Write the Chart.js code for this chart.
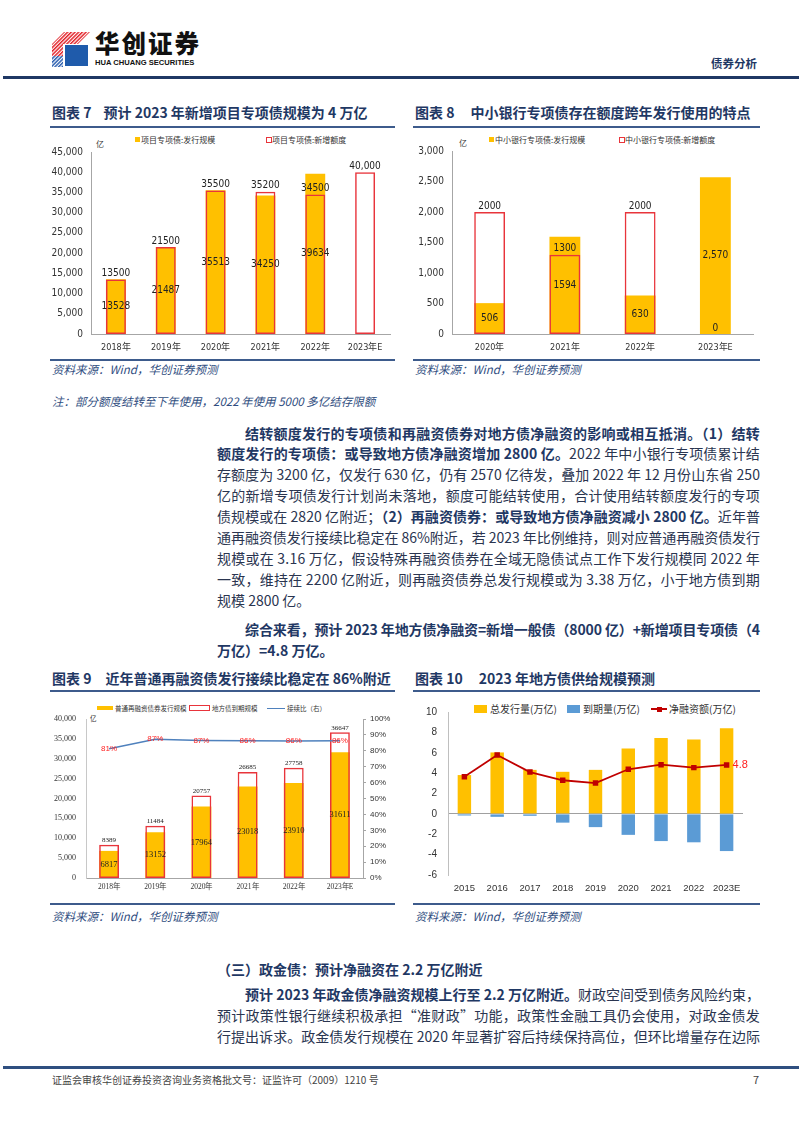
<!DOCTYPE html>
<html lang="zh-CN">
<head>
<meta charset="utf-8">
<title>债券分析</title>
<script src="https://cdn.jsdelivr.net/npm/chart.js@4.4.1/dist/chart.umd.min.js"></script>
<style>
  body { margin: 0; background: #fff; }
  #page { position: relative; width: 802px; height: 1133px; overflow: hidden; font-family: "Noto Sans CJK SC", sans-serif; color: #1f3864; }
  .abs { position: absolute; white-space: nowrap; }
  .rule { position: absolute; background: #3d5b8c; }
  .title { position: absolute; white-space: nowrap; font-size: 14px; font-weight: 700; line-height: 20px; color: #1f3864; }
  .title i { display: inline-block; font-style: normal; }
  .src { position: absolute; white-space: nowrap; font-size: 11.5px; font-style: italic; line-height: 16px; color: #2f4d80; }
  .ln { position: absolute; white-space: nowrap; font-size: 14px; line-height: 21px; color: #2a3550; }
  .ln b { color: #1f3864; font-weight: 700; }
  canvas { position: absolute; }
  .lg { position: absolute; white-space: nowrap; color: #333; }
  .sw { position: absolute; }
</style>
</head>
<body>
<div id="page">

  <!-- header -->
  <svg class="abs" style="left:52px;top:32px" width="38" height="35" viewBox="0 0 38 35">
    <defs>
      <pattern id="pr" width="2.6" height="2.6" patternUnits="userSpaceOnUse" patternTransform="rotate(-45)">
        <rect width="2.6" height="1.5" fill="#e3262d"/>
      </pattern>
      <pattern id="pb" width="2.6" height="2.6" patternUnits="userSpaceOnUse" patternTransform="rotate(-45)">
        <rect width="2.6" height="1.5" fill="#2b5fb0"/>
      </pattern>
    </defs>
    <polygon points="0,12 12,0 38,0 26,12" fill="url(#pr)"/>
    <polygon points="0,12 11,12 11,24 0,24" fill="url(#pr)"/>
    <polygon points="0,24 11,24 11,35 0,35" fill="url(#pb)"/>
    <rect x="13" y="13" width="23" height="21" fill="#1f5bab"/>
  </svg>
  <div class="abs" style="left:95px;top:28px;font-size:24.5px;font-weight:900;letter-spacing:2px;line-height:30px;color:#111">华创证券</div>
  <div class="abs" style="left:95px;top:58px;font-family:'Liberation Sans',sans-serif;font-size:7.6px;font-weight:700;line-height:9px;color:#111">HUA CHUANG SECURITIES</div>
  <div class="abs" style="left:711px;top:55px;font-size:11.5px;font-weight:700;line-height:16px;color:#1f3864">债券分析</div>
  <div class="rule" style="left:3px;top:76px;width:796px;height:3px;background:#1f3864"></div>

  <!-- figure 7 / 8 titles -->
  <div class="title" style="left:52px;top:102px">图表 7<i style="width:12px"></i>预计 2023 年新增项目专项债规模为 4 万亿</div>
  <div class="title" style="left:415px;top:102px">图表 8<i style="width:16px"></i>中小银行专项债存在额度跨年发行使用的特点</div>
  <div class="rule" style="left:50px;top:126px;width:345px;height:1.5px"></div>
  <div class="rule" style="left:413px;top:126px;width:347px;height:1.5px"></div>

  <!-- legend 7 -->
  <div class="sw" style="left:135px;top:137px;width:5px;height:5px;background:#FFC000"></div>
  <div class="lg" style="left:141px;top:134px;font-size:8px;line-height:12px">项目专项债:发行规模</div>
  <div class="sw" style="left:266px;top:137px;width:4px;height:4px;border:1px solid #E8343B"></div>
  <div class="lg" style="left:272px;top:134px;font-size:8px;line-height:12px">项目专项债:新增额度</div>
  <div class="lg" style="left:96px;top:139px;font-size:8px;line-height:10px">亿</div>
  <canvas id="fig7" width="360" height="228" style="left:40px;top:130px"></canvas>

  <!-- legend 8 -->
  <div class="sw" style="left:489px;top:137px;width:5px;height:5px;background:#FFC000"></div>
  <div class="lg" style="left:495px;top:134px;font-size:8px;line-height:12px">中小银行专项债:发行规模</div>
  <div class="sw" style="left:619px;top:137px;width:4px;height:4px;border:1px solid #E8343B"></div>
  <div class="lg" style="left:625px;top:134px;font-size:8px;line-height:12px">中小银行专项债:新增额度</div>
  <div class="lg" style="left:459px;top:138px;font-size:8px;line-height:10px">亿</div>
  <canvas id="fig8" width="370" height="228" style="left:410px;top:130px"></canvas>

  <div class="rule" style="left:50px;top:359px;width:345px;height:1.5px"></div>
  <div class="rule" style="left:413px;top:359px;width:347px;height:1.5px"></div>
  <div class="src" style="left:52px;top:361px">资料来源：Wind，华创证券预测</div>
  <div class="src" style="left:415px;top:361px">资料来源：Wind，华创证券预测</div>
  <div class="src" style="left:52px;top:393px">注：部分额度结转至下年使用，2022 年使用 5000 多亿结存限额</div>

  <!-- paragraph 1 -->
  <div class="ln j" data-w="515" style="left:245px;top:422.5px"><b>结转额度发行的专项债和再融资债券对地方债净融资的影响或相互抵消。（1）结转</b></div>
  <div class="ln j" data-w="543" style="left:217px;top:443.4px"><b>额度发行的专项债：或导致地方债净融资增加 2800 亿。</b>2022 年中小银行专项债累计结</div>
  <div class="ln j" data-w="543" style="left:217px;top:464.3px">存额度为 3200 亿，仅发行 630 亿，仍有 2570 亿待发，叠加 2022 年 12 月份山东省 250</div>
  <div class="ln j" data-w="543" style="left:217px;top:485.2px">亿的新增专项债发行计划尚未落地，额度可能结转使用，合计使用结转额度发行的专项</div>
  <div class="ln j" data-w="543" style="left:217px;top:506.1px">债规模或在 2820 亿附近；<b>（2）再融资债券：或导致地方债净融资减小 2800 亿。</b>近年普</div>
  <div class="ln j" data-w="543" style="left:217px;top:527px">通再融资债发行接续比稳定在 86%附近，若 2023 年比例维持，则对应普通再融资债发行</div>
  <div class="ln j" data-w="543" style="left:217px;top:547.9px">规模或在 3.16 万亿，假设特殊再融资债券在全域无隐债试点工作下发行规模同 2022 年</div>
  <div class="ln j" data-w="543" style="left:217px;top:568.8px">一致，维持在 2200 亿附近，则再融资债券总发行规模或为 3.38 万亿，小于地方债到期</div>
  <div class="ln" style="left:217px;top:589.7px">规模 2800 亿。</div>

  <!-- paragraph 2 -->
  <div class="ln j" data-w="515" style="left:245px;top:618.5px"><b>综合来看，预计 2023 年地方债净融资=新增一般债（8000 亿）+新增项目专项债（4</b></div>
  <div class="ln" style="left:217px;top:639.5px"><b>万亿）=4.8 万亿。</b></div>

  <!-- figure 9 / 10 titles -->
  <div class="title" style="left:52px;top:668px">图表 9<i style="width:14px"></i>近年普通再融资债发行接续比稳定在 86%附近</div>
  <div class="title" style="left:415px;top:668px">图表 10<i style="width:16px"></i>2023 年地方债供给规模预测</div>
  <div class="rule" style="left:50px;top:690px;width:345px;height:1.5px"></div>
  <div class="rule" style="left:413px;top:690px;width:347px;height:1.5px"></div>

  <!-- legend 9 -->
  <div class="sw" style="left:97px;top:706px;width:16px;height:4px;background:#FFC000"></div>
  <div class="lg" style="left:115px;top:703px;font-size:6.5px;line-height:10px">普通再融资债券发行规模</div>
  <div class="sw" style="left:189px;top:705px;width:19px;height:4px;border:1px solid #E8343B"></div>
  <div class="lg" style="left:212px;top:703px;font-size:6.5px;line-height:10px">地方债到期规模</div>
  <div class="sw" style="left:267px;top:707.5px;width:18px;height:1.5px;background:#4F81BD"></div>
  <div class="lg" style="left:287px;top:703px;font-size:6.5px;line-height:10px">接续比（右）</div>
  <div class="lg" style="left:90px;top:714px;font-size:6.5px;line-height:8px">亿</div>
  <canvas id="fig9" width="360" height="200" style="left:40px;top:695px"></canvas>

  <!-- legend 10 -->
  <div class="sw" style="left:474px;top:705px;width:13px;height:8px;background:#FFC000"></div>
  <div class="lg" style="left:490px;top:702px;font-size:10px;line-height:14px">总发行量(万亿)</div>
  <div class="sw" style="left:567px;top:705px;width:13px;height:8px;background:#5B9BD5"></div>
  <div class="lg" style="left:583px;top:702px;font-size:10px;line-height:14px">到期量(万亿)</div>
  <div class="sw" style="left:651px;top:708px;width:16px;height:2px;background:#C00000"></div>
  <div class="sw" style="left:656.5px;top:706.5px;width:5px;height:5px;background:#C00000"></div>
  <div class="lg" style="left:669px;top:702px;font-size:10px;line-height:14px">净融资额(万亿)</div>
  <canvas id="fig10" width="370" height="200" style="left:410px;top:695px"></canvas>

  <div class="rule" style="left:50px;top:903px;width:345px;height:1.5px"></div>
  <div class="rule" style="left:413px;top:903px;width:347px;height:1.5px"></div>
  <div class="src" style="left:52px;top:908px">资料来源：Wind，华创证券预测</div>
  <div class="src" style="left:415px;top:908px">资料来源：Wind，华创证券预测</div>

  <!-- section 3 -->
  <div class="ln" style="left:217px;top:958.5px"><b>（三）政金债：预计净融资在 2.2 万亿附近</b></div>
  <div class="ln j" data-w="515" style="left:245px;top:983.5px"><b>预计 2023 年政金债净融资规模上行至 2.2 万亿附近。</b>财政空间受到债务风险约束，</div>
  <div class="ln j" data-w="543" style="left:217px;top:1004.5px">预计政策性银行继续积极承担“准财政”功能，政策性金融工具仍会使用，对政金债发</div>
  <div class="ln j" data-w="543" style="left:217px;top:1025.5px">行提出诉求。政金债发行规模在 2020 年显著扩容后持续保持高位，但环比增量存在边际</div>

  <!-- footer -->
  <div class="rule" style="left:3px;top:1066px;width:796px;height:2.5px;background:#2f4f80"></div>
  <div class="abs" style="left:52px;top:1073px;font-size:10px;line-height:14px;color:#444">证监会审核华创证券投资咨询业务资格批文号：证监许可（2009）1210 号</div>
  <div class="abs" style="left:753px;top:1072px;font-size:11px;line-height:14px;color:#444">7</div>
</div>

<script>
// 图表7 项目专项债
const fig7Years = ['2018年', '2019年', '2020年', '2021年', '2022年', '2023年E'];
const fig7Issued = [13528, 21487, 35513, 34250, 39634, null];
const fig7Quota = [13500, 21500, 35500, 35200, 34500, 40000];

// 图表8 中小银行专项债
const fig8Years = ['2020年', '2021年', '2022年', '2023年E'];
const fig8Issued = [506, 1594, 630, 2570];
const fig8Quota = [2000, 1300, 2000, 0];

// 图表9 普通再融资债与到期规模
const fig9Years = ['2018年', '2019年', '2020年', '2021年', '2022年', '2023年E'];
const fig9Refi = [6817, 11484, 17964, 23018, 23910, 31611];
const fig9Maturity = [8389, 13152, 20757, 26685, 27758, 36647];
const fig9Ratio = [81.3, 87.3, 86.5, 86.3, 86.1, 86.3];
// labels as printed in the source chart
const fig9TopText = ['8389', '11484', '20757', '26685', '27758', '36647'];
const fig9InnerText = ['6817', '13152', '17964', '23018', '23910', '31611'];

// 图表10 地方债供给 (万亿)
const fig10Years = ['2015', '2016', '2017', '2018', '2019', '2020', '2021', '2022', '2023E'];
const fig10Issue = [3.81, 6.03, 4.32, 4.13, 4.32, 6.41, 7.46, 7.30, 8.41];
const fig10Mature = [-0.16, -0.29, -0.19, -0.86, -1.30, -2.06, -2.67, -2.79, -3.65];
const fig10Net = [3.65, 5.78, 4.10, 3.30, 3.02, 4.38, 4.83, 4.54, 4.80];

const YELLOW = '#FFC000';
const RED = '#E8343B';
const AXIS = '#A6A6A6';
const NARROW = '"Liberation Sans Narrow", "DejaVu Sans Condensed", "Liberation Sans", sans-serif';
const SERIF = '"Liberation Serif", serif';

Chart.defaults.font.family = '"Liberation Sans", sans-serif';
Chart.defaults.color = '#333';

// draws value text on bars / points
function valueLabels(items) {
    return {
        id: 'valueLabels',
        afterDatasetsDraw(chart) {
            const ctx = chart.ctx;
            items.forEach(function (it) {
                const meta = chart.getDatasetMeta(it.dataset);
                meta.data.forEach(function (el, i) {
                    const text = it.text(i);
                    if (text == null) return;
                    ctx.save();
                    ctx.font = it.font;
                    ctx.fillStyle = it.color;
                    ctx.textAlign = it.align || 'center';
                    let y;
                    if (it.pos === 'mid') {
                        y = (el.y + el.base) / 2;
                        ctx.textBaseline = 'middle';
                    } else if (it.pos === 'top') {
                        y = Math.min(el.y, el.base) - 1;
                        ctx.textBaseline = 'bottom';
                    } else {
                        y = el.y;
                        ctx.textBaseline = 'middle';
                    }
                    ctx.fillText(text, el.x + (it.dx || 0), y + (it.dy || 0));
                    ctx.restore();
                });
            });
        }
    };
}

function fmt(v) { return v.toLocaleString('en-US'); }

// ---------- 图表7 ----------
new Chart(document.getElementById('fig7'), {
    type: 'bar',
    data: {
        labels: fig7Years,
        datasets: [{
            label: '项目专项债:新增额度',
            data: fig7Quota,
            backgroundColor: 'rgba(255,255,255,0)',
            borderColor: RED,
            borderWidth: 1.5,
            borderSkipped: false,
            grouped: false,
            order: 0,
            barPercentage: 0.4,
            categoryPercentage: 1
        }, {
            label: '项目专项债:发行规模',
            data: fig7Issued,
            backgroundColor: YELLOW,
            grouped: false,
            order: 1,
            barPercentage: 0.4,
            categoryPercentage: 1
        }]
    },
    options: {
        responsive: false,
        animation: false,
        layout: { padding: { top: 22, right: 10, left: 0, bottom: 0 } },
        plugins: { legend: { display: false }, tooltip: { enabled: false } },
        scales: {
            x: {
                grid: { display: false, drawTicks: false },
                border: { color: AXIS },
                ticks: { font: { size: 9, family: NARROW }, padding: 8, maxRotation: 0, autoSkip: false },
                afterFit: function (s) { s.height = 24; }
            },
            y: {
                min: 0, max: 45000,
                grid: { display: false, drawTicks: false },
                border: { color: AXIS },
                ticks: { stepSize: 5000, font: { size: 10, family: NARROW }, padding: 8, callback: fmt },
                afterFit: function (s) { s.width = 51; }
            }
        }
    },
    plugins: [valueLabels([
        { dataset: 1, pos: 'mid', font: '10px ' + NARROW, color: '#222',
          text: function (i) { return fig7Issued[i] == null ? null : String(fig7Issued[i]); } },
        { dataset: 0, pos: 'top', font: '10px ' + NARROW, color: '#222',
          text: function (i) { return i === fig7Quota.length - 1 ? fmt(fig7Quota[i]) : String(fig7Quota[i]); } }
    ])]
});

// ---------- 图表8 ----------
new Chart(document.getElementById('fig8'), {
    type: 'bar',
    data: {
        labels: fig8Years,
        datasets: [{
            label: '中小银行专项债:新增额度',
            data: fig8Quota,
            backgroundColor: 'rgba(255,255,255,0)',
            borderColor: RED,
            borderWidth: 1.5,
            borderSkipped: false,
            grouped: false,
            order: 0,
            barPercentage: 0.41,
            categoryPercentage: 1
        }, {
            label: '中小银行专项债:发行规模',
            data: fig8Issued,
            backgroundColor: YELLOW,
            grouped: false,
            order: 1,
            barPercentage: 0.41,
            categoryPercentage: 1
        }]
    },
    options: {
        responsive: false,
        animation: false,
        layout: { padding: { top: 21, right: 27, left: 0, bottom: 0 } },
        plugins: { legend: { display: false }, tooltip: { enabled: false } },
        scales: {
            x: {
                grid: { display: false, drawTicks: false },
                border: { color: AXIS },
                ticks: { font: { size: 9, family: NARROW }, padding: 8, maxRotation: 0, autoSkip: false },
                afterFit: function (s) { s.height = 24; }
            },
            y: {
                min: 0, max: 3000,
                grid: { display: false, drawTicks: false },
                border: { color: AXIS },
                ticks: { stepSize: 500, font: { size: 10, family: NARROW }, padding: 8, callback: fmt },
                afterFit: function (s) { s.width = 42; }
            }
        }
    },
    plugins: [valueLabels([
        { dataset: 1, pos: 'mid', font: '10px ' + NARROW, color: '#222',
          text: function (i) { return i === fig8Issued.length - 1 ? fmt(fig8Issued[i]) : String(fig8Issued[i]); } },
        { dataset: 0, pos: 'top', font: '10px ' + NARROW, color: '#222',
          text: function (i) { return String(fig8Quota[i]); } }
    ])]
});

// ---------- 图表9 ----------
new Chart(document.getElementById('fig9'), {
    type: 'bar',
    data: {
        labels: fig9Years,
        datasets: [{
            type: 'line',
            label: '接续比（右）',
            data: fig9Ratio,
            yAxisID: 'y1',
            borderColor: '#4F81BD',
            borderWidth: 1.5,
            pointRadius: 0,
            order: 0
        }, {
            label: '地方债到期规模',
            data: fig9Maturity,
            backgroundColor: 'rgba(255,255,255,0)',
            borderColor: RED,
            borderWidth: 1.5,
            borderSkipped: false,
            grouped: false,
            order: 1,
            barPercentage: 0.43,
            categoryPercentage: 1
        }, {
            label: '普通再融资债券发行规模',
            data: fig9Refi,
            backgroundColor: YELLOW,
            grouped: false,
            order: 2,
            barPercentage: 0.43,
            categoryPercentage: 1
        }]
    },
    options: {
        responsive: false,
        animation: false,
        layout: { padding: { top: 24, right: 0, left: 0, bottom: 0 } },
        plugins: { legend: { display: false }, tooltip: { enabled: false } },
        scales: {
            x: {
                grid: { display: false, drawTicks: false },
                border: { color: AXIS },
                ticks: { font: { size: 7.5, family: SERIF }, padding: 5, maxRotation: 0, autoSkip: false },
                afterFit: function (s) { s.height = 17; }
            },
            y: {
                min: 0, max: 40000,
                grid: { display: false, drawTicks: false },
                border: { color: '#C8C8C8' },
                ticks: { stepSize: 5000, font: { size: 8, family: SERIF }, padding: 10, callback: fmt },
                afterFit: function (s) { s.width = 46; }
            },
            y1: {
                position: 'right',
                min: 0, max: 100,
                grid: { drawOnChartArea: false, drawTicks: true, tickLength: 3, color: AXIS },
                border: { color: AXIS },
                ticks: { stepSize: 10, font: { size: 8 }, padding: 4, callback: function (v) { return v + '%'; } },
                afterFit: function (s) { s.width = 37; }
            }
        }
    },
    plugins: [valueLabels([
        { dataset: 2, pos: 'mid', font: '8.5px ' + SERIF, color: '#222',
          text: function (i) { return fig9InnerText[i]; } },
        { dataset: 1, pos: 'top', font: '7px ' + SERIF, color: '#222',
          text: function (i) { return fig9TopText[i]; } },
        { dataset: 0, pos: 'point', font: '8px "Liberation Sans", sans-serif', color: '#FF1F1F',
          text: function (i) { return Math.round(fig9Ratio[i]) + '%'; } }
    ])]
});

// ---------- 图表10 ----------
new Chart(document.getElementById('fig10'), {
    type: 'bar',
    data: {
        labels: fig10Years,
        datasets: [{
            type: 'line',
            label: '净融资额(万亿)',
            data: fig10Net,
            borderColor: '#C00000',
            backgroundColor: '#C00000',
            borderWidth: 1.8,
            pointStyle: 'rect',
            pointRadius: 2.6,
            order: 0
        }, {
            label: '总发行量(万亿)',
            data: fig10Issue,
            backgroundColor: YELLOW,
            grouped: false,
            order: 1,
            barPercentage: 0.41,
            categoryPercentage: 1
        }, {
            label: '到期量(万亿)',
            data: fig10Mature,
            backgroundColor: '#5B9BD5',
            grouped: false,
            order: 2,
            barPercentage: 0.41,
            categoryPercentage: 1
        }]
    },
    options: {
        responsive: false,
        animation: false,
        layout: { padding: { top: 13, right: 37, left: 0, bottom: 0 } },
        plugins: { legend: { display: false }, tooltip: { enabled: false } },
        scales: {
            x: {
                grid: { display: false, drawTicks: false },
                border: { display: false },
                ticks: { font: { size: 9.5 }, padding: 8, maxRotation: 0, minRotation: 0, autoSkip: false },
                afterFit: function (s) { s.height = 20; }
            },
            y: {
                min: -6, max: 10,
                grid: {
                    drawTicks: false,
                    color: function (c) { return c.tick && c.tick.value === 0 ? '#A0A0A0' : 'rgba(0,0,0,0)'; }
                },
                border: { color: '#BFBFBF' },
                ticks: { stepSize: 2, font: { size: 10 }, padding: 11 },
                afterFit: function (s) { s.width = 38; }
            }
        }
    },
    plugins: [valueLabels([
        { dataset: 0, pos: 'point', font: '11px "Liberation Sans", sans-serif', color: '#FF2020', align: 'left', dx: 6,
          text: function (i) { return i === fig10Net.length - 1 ? String(fig10Net[i]) : null; } }
    ])]
});

// stretch each text line to the column width, like justified print
function fitLines() {
    document.querySelectorAll('.j').forEach(function (el) {
        el.style.letterSpacing = '0px';
        const w = el.getBoundingClientRect().width;
        const n = el.textContent.length;
        const target = +el.dataset.w;
        el.style.letterSpacing = ((target - w) / n) + 'px';
    });
}
fitLines();
if (document.fonts && document.fonts.ready) document.fonts.ready.then(fitLines);
</script>
</body>
</html>
